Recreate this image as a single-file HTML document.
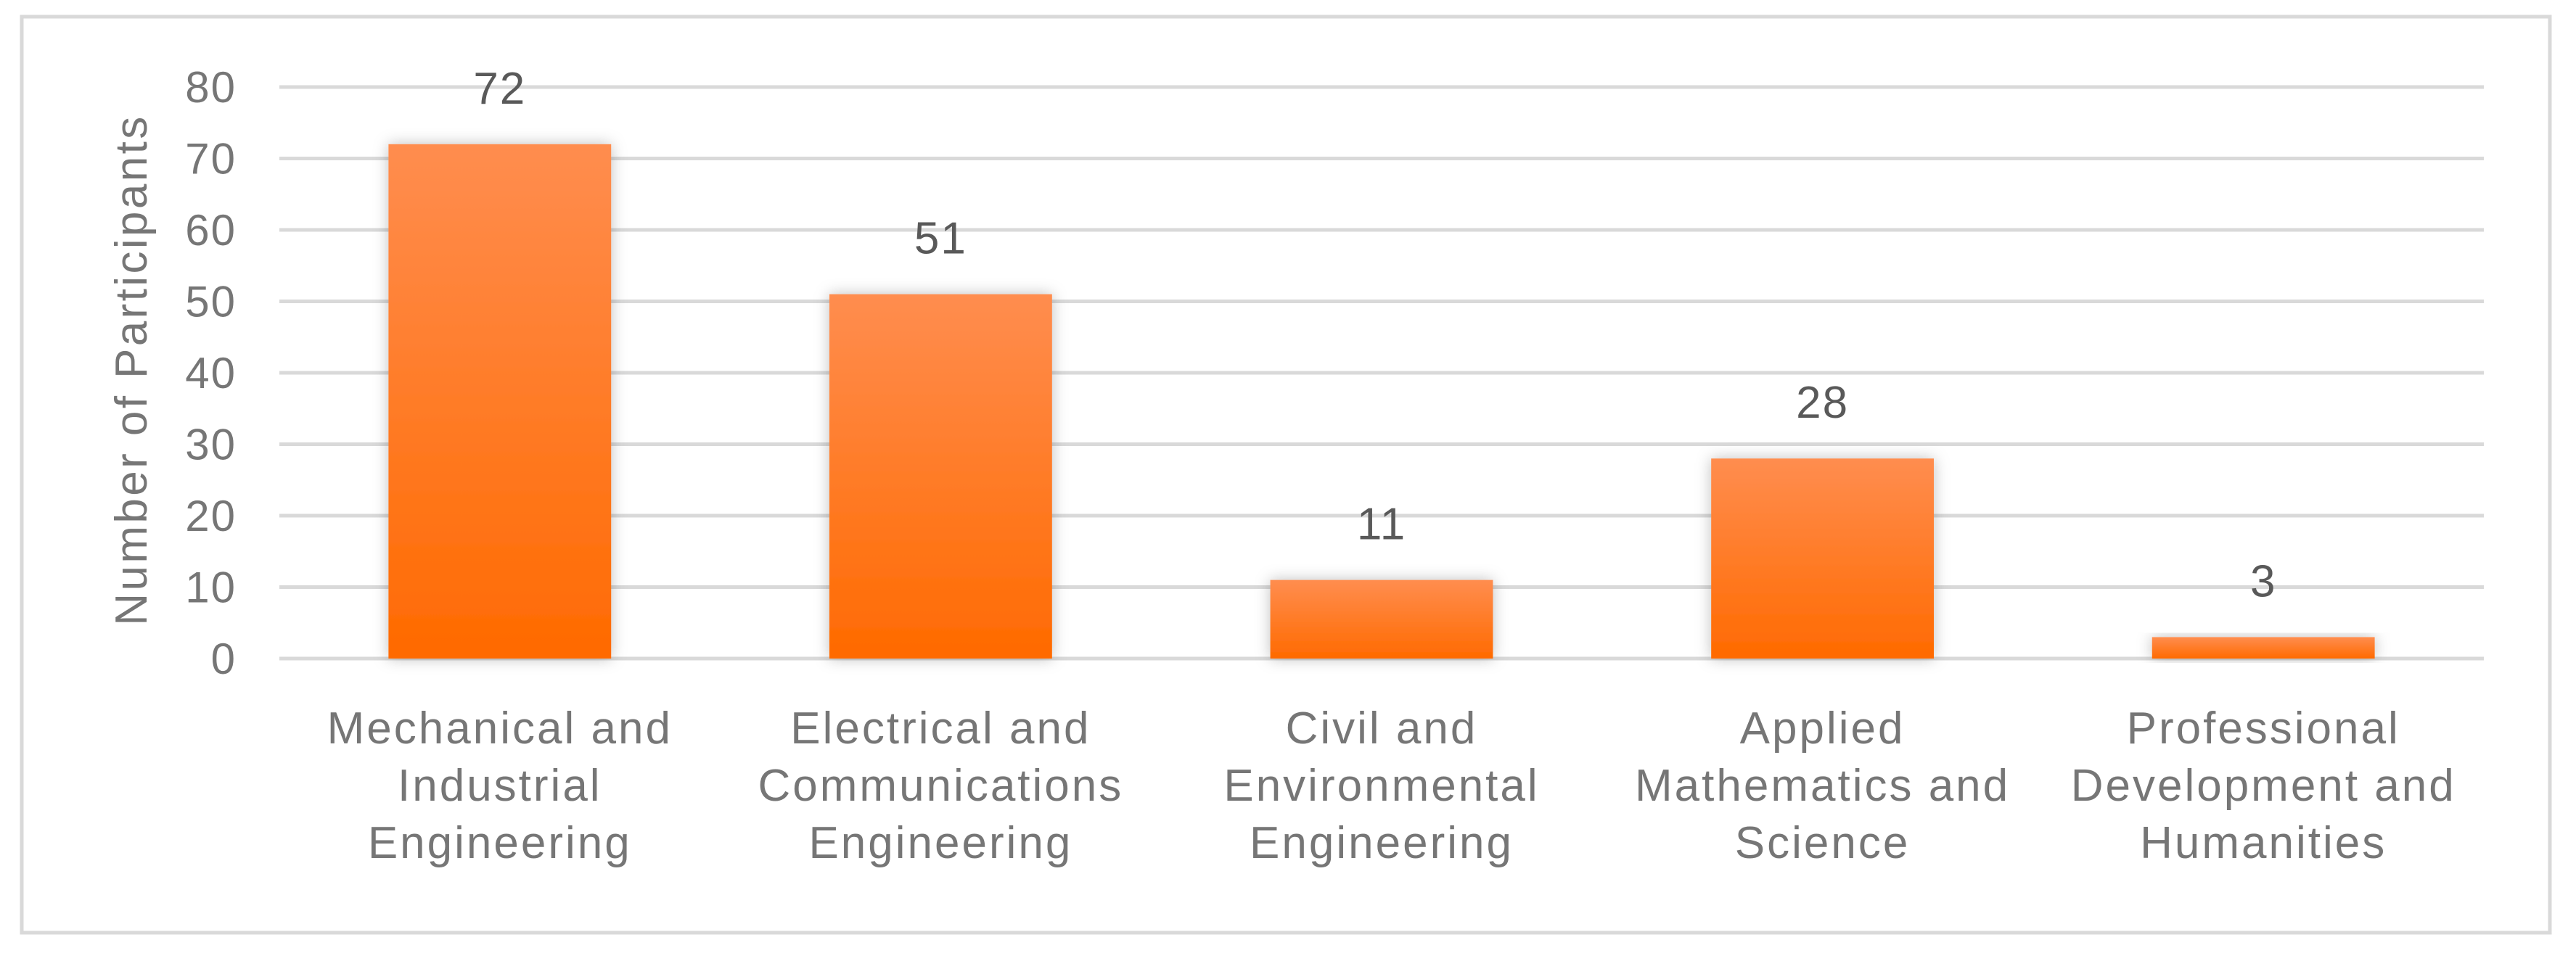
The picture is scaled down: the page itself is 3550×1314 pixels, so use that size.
<!DOCTYPE html>
<html><head><meta charset="utf-8"><style>
html,body{margin:0;padding:0;background:#fff;}
svg{display:block;font-family:"Liberation Sans",sans-serif;}
</style></head><body>
<svg id="chart" width="3550" height="1314" viewBox="0 0 3550 1314" xmlns="http://www.w3.org/2000/svg">
<defs>
<linearGradient id="barGrad" x1="0" y1="0" x2="0" y2="1">
<stop offset="0" stop-color="#ff8d4f"/><stop offset="1" stop-color="#ff6a00"/>
</linearGradient>
<filter id="sh" x="-20%" y="-20%" width="140%" height="140%"><feDropShadow dx="0" dy="0" stdDeviation="10" flood-color="#000" flood-opacity="0.25"/></filter>
</defs>
<rect x="30" y="23" width="3484" height="1263" fill="#fff" stroke="#d9d9d9" stroke-width="5"/>
<g id="grid"></g>
<g id="bars"></g>
<g id="labels"></g>
<text transform="translate(202,510) rotate(-90)" text-anchor="middle" font-size="62" letter-spacing="3.4" fill="#767676">Number of Participants</text>
</svg>
<script>
const categories = [["Mechanical and","Industrial","Engineering"],["Electrical and","Communications","Engineering"],["Civil and","Environmental","Engineering"],["Applied","Mathematics and","Science"],["Professional","Development and","Humanities"]];
const values = [72, 51, 11, 28, 3];
const yTicks = [0, 10, 20, 30, 40, 50, 60, 70, 80];
const NS = "http://www.w3.org/2000/svg";
const plotL = 385, plotR = 3423, y0 = 908, yTop = 120, yMax = 80;
const yScale = v => y0 - (v / yMax) * (y0 - yTop);
const band = (plotR - plotL) / categories.length;
const xCenter = i => plotL + band * (i + 0.5);
const barW = band * 0.505;
function mk(tag, attrs, parent){const e=document.createElementNS(NS,tag);for(const k in attrs)e.setAttribute(k,attrs[k]);parent.appendChild(e);return e;}
const grid = document.getElementById('grid'), bars = document.getElementById('bars'), labels = document.getElementById('labels');
yTicks.forEach(t => {
  const l = mk('line',{x1:plotL,x2:plotR,y1:yScale(t),y2:yScale(t),stroke:'#d9d9d9','stroke-width':5},grid);
  
  
  const tx = mk('text',{x:326,y:yScale(t)+21,'text-anchor':'end','font-size':60,'letter-spacing':2,fill:'#767676'},labels);
  tx.textContent = t;
  
  
});
values.forEach((v,i) => {
  const cx = xCenter(i);
  const r = mk('rect',{x:cx-barW/2,y:yScale(v),width:barW,height:y0-yScale(v),fill:'url(#barGrad)',filter:'url(#sh)'},bars);
  
  
  const vl = mk('text',{x:cx,y:yScale(v)-56,'text-anchor':'middle','font-size':62,'letter-spacing':2,fill:'#595959'},labels);
  vl.textContent = v;
  
  
  categories[i].forEach((line,j) => {
    const c = mk('text',{x:cx,y:1025+j*79,'text-anchor':'middle','font-size':62,'letter-spacing':3,fill:'#767676'},labels);
    c.textContent = line;
    
    
  });
});
</script>
</body></html>
